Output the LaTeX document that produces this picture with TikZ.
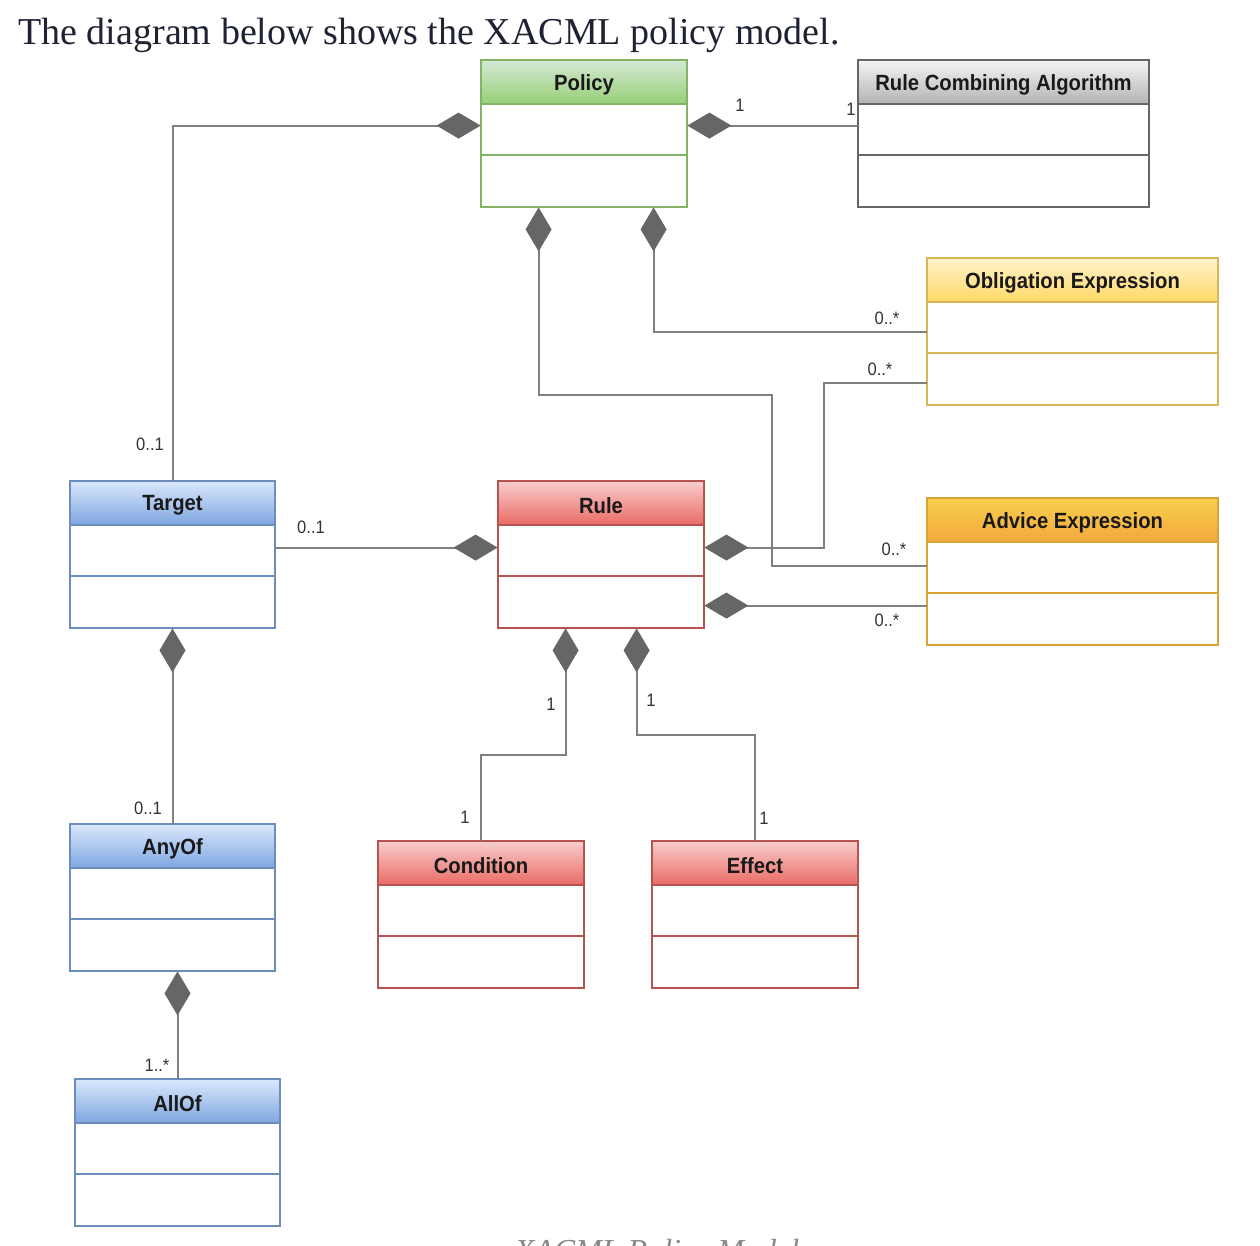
\documentclass[tikz,border=0pt]{standalone}
\usepackage{fontspec}
\setmainfont{Liberation Serif}
\setsansfont{Liberation Sans}
\newfontfamily\narrowsans{Liberation Sans}[FakeStretch=0.92]
\usetikzlibrary{arrows.meta,calc,fit}
\definecolor{greenline}{HTML}{82B366}\definecolor{greentop}{HTML}{D5E8D4}\definecolor{greenbot}{HTML}{97D077}
\definecolor{grayline}{HTML}{666666}\definecolor{graytop}{HTML}{F5F5F5}\definecolor{graybot}{HTML}{B3B3B3}
\definecolor{yelline}{HTML}{D6B656}\definecolor{yeltop}{HTML}{FFF2CC}\definecolor{yelbot}{HTML}{FFD966}
\definecolor{orline}{HTML}{D9A437}\definecolor{ortop}{HTML}{F9CF4E}\definecolor{orbot}{HTML}{F2A93B}
\definecolor{blueline}{HTML}{6C8EBF}\definecolor{bluetop}{HTML}{DAE8FC}\definecolor{bluebot}{HTML}{7EA6E0}
\definecolor{redline}{HTML}{B85450}\definecolor{redtop}{HTML}{F8CECC}\definecolor{redbot}{HTML}{EA6B66}
\definecolor{connc}{HTML}{808080}\definecolor{diamc}{HTML}{666666}
\definecolor{titlec}{HTML}{1F2233}\definecolor{capc}{HTML}{888888}
\tikzset{
  hdr/.style={font=\narrowsans\bfseries\fontsize{11}{13}\selectfont, text=black!90, inner sep=0pt},
  mult/.style={font=\narrowsans\fontsize{9}{11}\selectfont, text=black!80, inner sep=0pt},
  comp/.style={draw=connc, line width=1pt, arrows={Diamond[length=22pt,width=13pt,color=diamc,fill=diamc]-}},
}
\newcommand\umlclass[6]{%
  \path[draw=#6line, line width=0.75pt, fill=white] (#2,#3) rectangle ++(#4,147);
  \path[draw=#6line, line width=0.75pt, top color=#6top, bottom color=#6bot] (#2,#3) rectangle ++(#4,44);
  \draw[#6line, line width=0.75pt] (#2,#3+95) -- ++(#4,0);
  \node[fit={(#2,#3) (#2+#4,#3+147)}, inner sep=0pt] (#1) {};
  \node[hdr] (#1-t) at (#2+#4/2,#3+24.5) {#5};
}
\begin{document}
\begin{tikzpicture}[x=0.5pt,y=-0.5pt]
\useasboundingbox (0,0) rectangle (1260,1246);
\clip (0,0) rectangle (1260,1246);
\fill[white] (0,0) rectangle (1260,1246);
\node[anchor=base west, inner sep=0pt, font=\fontsize{19}{22}\selectfont, text=titlec] (title) at (18,45) {The diagram below shows the XACML policy model.};
\node[anchor=north, inner sep=0pt, font=\itshape\fontsize{16}{19}\selectfont, text=capc] (caption) at (657,1239) {XACML Policy Model};

\umlclass{pol}{481}{60}{206}{Policy}{green}
\umlclass{rca}{858}{60}{291}{Rule Combining Algorithm}{gray}
\umlclass{obl}{927}{258}{291}{Obligation Expression}{yel}
\umlclass{adv}{927}{498}{291}{Advice Expression}{or}
\umlclass{tgt}{70}{481}{205}{Target}{blue}
\umlclass{rule}{498}{481}{206}{Rule}{red}
\umlclass{any}{70}{824}{205}{AnyOf}{blue}
\umlclass{all}{75}{1079}{205}{AllOf}{blue}
\umlclass{cnd}{378}{841}{206}{Condition}{red}
\umlclass{eff}{652}{841}{206}{Effect}{red}

% connectors
\draw[comp] ($(pol.north west)+(0,66)$) -| (tgt.north);
\draw[comp] ($(pol.north east)+(0,66)$) coordinate (a1) -- (a1 -| rca.west);
\draw[comp] ($(pol.south west)+(173,0)$) |- ($(obl.north west)+(0,74)$);
\draw[comp] ($(pol.south west)+(58,0)$) -- ++(0,188) -- ++(233,0) |- ($(adv.north west)+(0,68)$);
\draw[comp] ($(rule.north east)+(0,67)$) -- ++(120,0) |- ($(obl.north west)+(0,125)$);
\draw[comp] ($(rule.north east)+(0,125)$) coordinate (a2) -- (a2 -| adv.west);
\draw[comp] ($(rule.north west)+(0,67)$) coordinate (a3) -- (a3 -| tgt.east);
\draw[comp] ($(rule.south west)+(68,0)$) -- ++(0,127) -| (cnd.north);
\draw[comp] ($(rule.south west)+(139,0)$) -- ++(0,107) -| (eff.north);
\draw[comp] (tgt.south) -- (any.north);
\draw[comp] (all.north |- any.south) -- (all.north);

% multiplicities
\node[mult] (m1) at (740,105) {1};
\node[mult] (m2) at (851,109) {1};
\node[mult] (m3) at (150,444) {0..1};
\node[mult] (m4) at (887,318) {0..*};
\node[mult] (m5) at (880,369) {0..*};
\node[mult] (m6) at (894,549) {0..*};
\node[mult] (m7) at (887,620) {0..*};
\node[mult] (m8) at (311,527) {0..1};
\node[mult] (m9) at (551,704) {1};
\node[mult] (m10) at (465,817) {1};
\node[mult] (m11) at (651,700) {1};
\node[mult] (m12) at (764,818) {1};
\node[mult] (m13) at (148,808) {0..1};
\node[mult] (m14) at (157,1065) {1..*};
\end{tikzpicture}
\end{document}
